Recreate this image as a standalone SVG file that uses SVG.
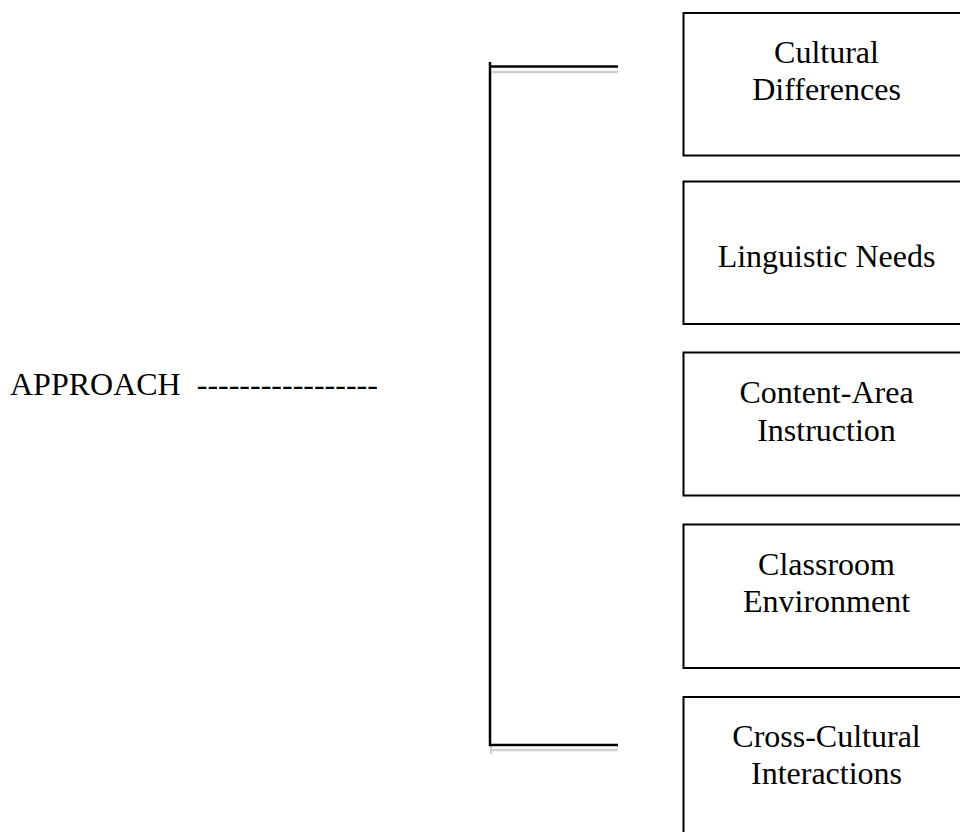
<svg xmlns="http://www.w3.org/2000/svg" width="960" height="832" viewBox="0 0 960 832">
<style>
.box{fill:#fff;stroke:#000;stroke-width:2}
.t{font-family:"Liberation Serif","Times New Roman",serif;font-size:32px;fill:#000}
.c{text-anchor:middle}
.ln{stroke:#000;stroke-width:2.5;fill:none}
.sh{stroke:#d0d0d0;stroke-width:2.5;fill:none}
</style>
<rect width="960" height="832" fill="#fff"/>
<g id="approach"><text class="t" x="10" y="395" xml:space="preserve">APPROACH  -----------------</text></g>
<g id="connectors">
<line class="sh" x1="492" y1="72" x2="618" y2="72"/>
<line class="sh" x1="492" y1="750" x2="618" y2="750"/>
<line class="sh" x1="491" y1="745" x2="491" y2="754"/>
<line class="ln" x1="490" y1="62" x2="490" y2="746"/>
<line class="ln" x1="489" y1="66.5" x2="618" y2="66.5"/>
<line class="ln" x1="489" y1="745" x2="618" y2="745"/>
</g>
<g id="n1"><rect class="box" x="683.5" y="13" width="300" height="142.5"/><text class="t c" x="826.5" y="63">Cultural</text><text class="t c" x="826.5" y="100">Differences</text></g>
<g id="n2"><rect class="box" x="683.5" y="181.5" width="300" height="142.5"/><text class="t c" x="826.5" y="267">Linguistic Needs</text></g>
<g id="n3"><rect class="box" x="683.5" y="352.5" width="300" height="143"/><text class="t c" x="826.5" y="403">Content-Area</text><text class="t c" x="826.5" y="441">Instruction</text></g>
<g id="n4"><rect class="box" x="683.5" y="524.5" width="300" height="143.5"/><text class="t c" x="826.5" y="575">Classroom</text><text class="t c" x="826.5" y="612">Environment</text></g>
<g id="n5"><rect class="box" x="683.5" y="697" width="300" height="160"/><text class="t c" x="826.5" y="747">Cross-Cultural</text><text class="t c" x="826.5" y="784">Interactions</text></g>
</svg>
